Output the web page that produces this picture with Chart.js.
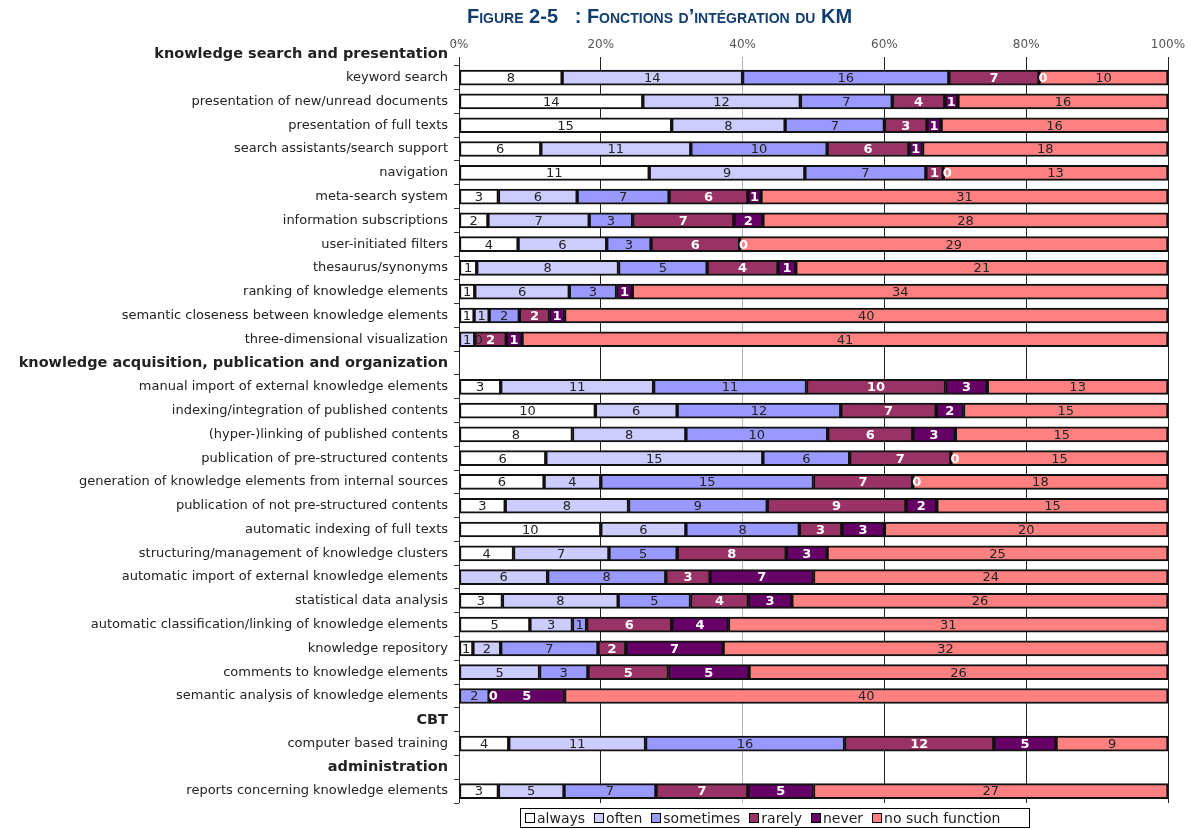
<!DOCTYPE html>
<html lang="fr">
<head>
<meta charset="utf-8">
<title>Figure 2-5 : Fonctions d’intégration du KM</title>
<script src="https://cdn.jsdelivr.net/npm/chart.js@4.4.1/dist/chart.umd.min.js"></script>
<style>
    html, body { margin: 0; padding: 0; background: #fff; }
    #wrap { position: relative; width: 1202px; height: 829px; }
    #title {
        position: absolute; left: 467px; top: 5px;
        font: bold 20px "Liberation Sans Narrow", "Arial Narrow", sans-serif;
        font-variant: small-caps; color: #123d70; white-space: nowrap;
    }
    #legend {
        position: absolute; left: 520px; top: 808px; height: 18px; width: 498px;
        border: 1px solid #000; padding: 0 6px 0 4px; display: flex; align-items: center;
        font: 14px "DejaVu Sans", sans-serif; color: #222; white-space: nowrap;
    }
    #legend span.item { display: inline-flex; align-items: center; margin-right: 9px; }
    #legend span.box { width: 8px; height: 8px; border: 1.5px solid #000; margin-right: 2px; }
</style>
</head>
<body>
<div id="wrap">
    <canvas id="kmChart" width="1202" height="829"></canvas>
    <div id="title">Figure 2-5&nbsp;&nbsp; : Fonctions d’intégration du KM</div>
    <div id="legend"></div>
</div>
<script>
// ---- données (nombre de réponses) ----
const categories = [
    "knowledge search and presentation",
    "keyword search",
    "presentation of new/unread documents",
    "presentation of full texts",
    "search assistants/search support",
    "navigation",
    "meta-search system",
    "information subscriptions",
    "user-initiated filters",
    "thesaurus/synonyms",
    "ranking of knowledge elements",
    "semantic closeness between knowledge elements",
    "three-dimensional visualization",
    "knowledge acquisition, publication and organization",
    "manual import of external knowledge elements",
    "indexing/integration of published contents",
    "(hyper-)linking of published contents",
    "publication of pre-structured contents",
    "generation of knowledge elements from internal sources",
    "publication of not pre-structured contents",
    "automatic indexing of full texts",
    "structuring/management of knowledge clusters",
    "automatic import of external knowledge elements",
    "statistical data analysis",
    "automatic classification/linking of knowledge elements",
    "knowledge repository",
    "comments to knowledge elements",
    "semantic analysis of knowledge elements",
    "CBT",
    "computer based training",
    "administration",
    "reports concerning knowledge elements"
];

// lignes de titre de section (en gras, sans barre)
const headerRows = [
    "knowledge search and presentation",
    "knowledge acquisition, publication and organization",
    "CBT",
    "administration"
];

const seriesNames = ["always", "often", "sometimes", "rarely", "never", "no such function"];
const seriesColors = ["#ffffff", "#ccccff", "#9999ff", "#993366", "#660066", "#ff8080"];

const always    = [null, 8, 14, 15, 6, 11, 3, 2, 4, 1, 1, 1, null, null, 3, 10, 8, 6, 6, 3, 10, 4, null, 3, 5, 1, null, null, null, 4, null, 3];
const often     = [null, 14, 12, 8, 11, 9, 6, 7, 6, 8, 6, 1, 1, null, 11, 6, 8, 15, 4, 8, 6, 7, 6, 8, 3, 2, 5, null, null, 11, null, 5];
const sometimes = [null, 16, 7, 7, 10, 7, 7, 3, 3, 5, 3, 2, 0, null, 11, 12, 10, 6, 15, 9, 8, 5, 8, 5, 1, 7, 3, 2, null, 16, null, 7];
const rarely    = [null, 7, 4, 3, 6, 1, 6, 7, 6, 4, null, 2, 2, null, 10, 7, 6, 7, 7, 9, 3, 8, 3, 4, 6, 2, 5, 0, null, 12, null, 7];
const never     = [null, 0, 1, 1, 1, 0, 1, 2, 0, 1, 1, 1, 1, null, 3, 2, 3, 0, 0, 2, 3, 3, 7, 3, 4, 7, 5, 5, null, 5, null, 5];
const noSuchFn  = [null, 10, 16, 16, 18, 13, 31, 28, 29, 21, 34, 40, 41, null, 13, 15, 15, 15, 18, 15, 20, 25, 24, 26, 31, 32, 26, 40, null, 9, null, 27];

const xTicks = [0, 20, 40, 60, 80, 100];

const seriesCounts = [always, often, sometimes, rarely, never, noSuchFn];

// total par ligne, pour passer en pourcentage (barres à 100 %)
const rowTotals = categories.map((c, i) =>
    seriesCounts.reduce((sum, s) => sum + (s[i] || 0), 0));

const FONT = "'DejaVu Sans', sans-serif";

// étiquettes de valeurs dans chaque segment (y compris les zéros)
const countLabels = {
    id: "countLabels",
    afterDatasetsDraw(chart) {
        const ctx = chart.ctx;
        ctx.save();
        ctx.textAlign = "center";
        ctx.textBaseline = "middle";
        chart.data.datasets.forEach((ds, d) => {
            const meta = chart.getDatasetMeta(d);
            const dark = d === 3 || d === 4;
            meta.data.forEach((bar, i) => {
                const n = seriesCounts[d][i];
                if (n === null || n === undefined) return;
                let x = (bar.x + bar.base) / 2;
                if (n === 0) x += 4;
                ctx.font = dark ? "bold 13px " + FONT : "13px " + FONT;
                ctx.fillStyle = dark ? "#ffffff" : "#222222";
                ctx.fillText(String(n), x, bar.y + 1);
            });
        });
        ctx.restore();
    }
};

// le quadrillage commence sous les libellés 0%..100% (comme dans Excel)
const topAxisLabels = {
    id: "topAxisLabels",
    beforeDatasetsDraw(chart) {
        const ctx = chart.ctx;
        const area = chart.chartArea;
        const x = chart.scales.x;
        ctx.save();
        ctx.fillStyle = "#ffffff";
        ctx.fillRect(area.left - 3, area.top - 1, area.right - area.left + 6, 16);
        ctx.font = "12px " + FONT;
        ctx.fillStyle = "#555555";
        ctx.textAlign = "center";
        ctx.textBaseline = "middle";
        xTicks.forEach(v => ctx.fillText(v + "%", x.getPixelForValue(v), 45));
        ctx.restore();
    }
};

const datasets = seriesNames.map((name, d) => ({
    label: name,
    data: seriesCounts[d].map((n, i) => n === null ? null : n / rowTotals[i] * 100),
    backgroundColor: seriesColors[d],
    borderColor: "#111111",
    borderWidth: 2,
    borderSkipped: false,
    barThickness: 15
}));

new Chart(document.getElementById("kmChart"), {
    type: "bar",
    data: { labels: categories, datasets: datasets },
    plugins: [topAxisLabels, countLabels],
    options: {
        indexAxis: "y",
        responsive: false,
        animation: false,
        layout: { padding: { top: 0, right: 34, bottom: 26, left: 0 } },
        plugins: {
            legend: { display: false },
            tooltip: { enabled: false }
        },
        scales: {
            x: {
                position: "top",
                stacked: true,
                min: 0,
                max: 100,
                afterBuildTicks: (scale) => { scale.ticks = xTicks.map(v => ({ value: v })); },
                afterFit: (scale) => { scale.height = 42; },
                ticks: { display: false },
                grid: {
                    color: (ctx) => (ctx.tick && ctx.tick.value === 40) ? "#b5b5b5" : "#222",
                    lineWidth: 1,
                    tickLength: 0
                },
                border: { display: false }
            },
            y: {
                stacked: true,
                afterFit: (scale) => { scale.width = 459; },
                ticks: {
                    color: "#222",
                    padding: 6,
                    autoSkip: false,
                    font: (ctx) => headerRows.includes(categories[ctx.index])
                        ? { family: FONT, size: 14.5, weight: "bold" }
                        : { family: FONT, size: 13 }
                },
                grid: {
                    offset: true,
                    drawOnChartArea: false,
                    tickLength: 5,
                    color: "#333"
                },
                border: { display: false }
            }
        }
    }
});

// légende encadrée sous le graphique
const legendBox = document.getElementById("legend");
seriesNames.forEach((name, d) => {
    const item = document.createElement("span");
    item.className = "item";
    item.innerHTML = '<span class="box" style="background:' + seriesColors[d] + '"></span>' + name;
    legendBox.appendChild(item);
});
</script>
</body>
</html>
